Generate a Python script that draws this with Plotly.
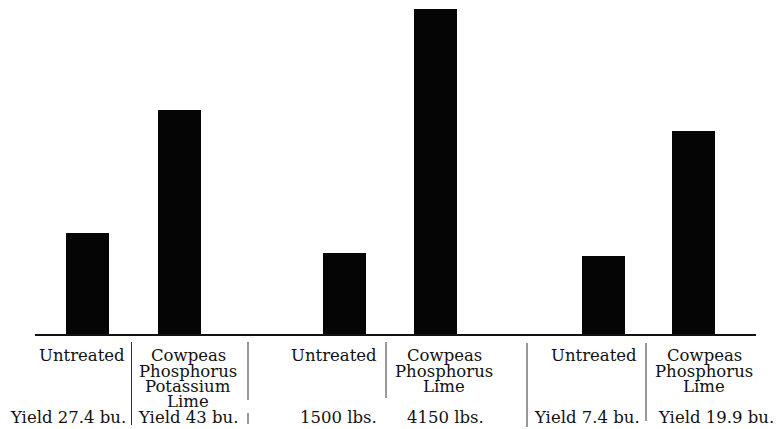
import plotly.graph_objects as go

# ---- data ----
treatments = [
    ["Untreated"],
    ["Cowpeas", "Phosphorus", "Potassium", "Lime"],
    ["Untreated"],
    ["Cowpeas", "Phosphorus", "Lime"],
    ["Untreated"],
    ["Cowpeas", "Phosphorus", "Lime"],
]
yield_labels = ["Yield 27.4 bu.", "Yield 43 bu.", "1500 lbs.", "4150 lbs.",
                "Yield 7.4 bu.", "Yield 19.9 bu."]
# bar heights as drawn (relative units, measured from the baseline)
bar_heights = [102, 225, 82, 326, 79, 204]

# ---- layout (pixel-like units) ----
bar_x = [87, 179, 344, 435, 603, 693]
bar_w = 43
label_x = [82, 188, 334, 444, 594, 704]
yield_x = [68, 188, 338, 445, 587, 716]
line_y = [-20, -36, -51, -66]   # text line centres below baseline
yield_y = -82

FONT = "DejaVu Serif"
FS = 16.5

fig = go.Figure()
fig.add_trace(go.Bar(
    x=bar_x, y=bar_heights, width=bar_w,
    marker=dict(color="#050505", line=dict(width=0)),
    hoverinfo="skip",
))

ann = []
for i, lines in enumerate(treatments):
    for j, t in enumerate(lines):
        ann.append(dict(x=label_x[i], y=line_y[j], text=t, showarrow=False,
                        xanchor="center", yanchor="middle", borderpad=0,
                        font=dict(family=FONT, size=FS, color="#111")))
    ann.append(dict(x=yield_x[i], y=yield_y, text=yield_labels[i], showarrow=False,
                    xanchor="center", yanchor="middle", borderpad=0,
                    font=dict(family=FONT, size=FS, color="#111")))

shapes = [dict(type="line", x0=35, x1=756, y0=0, y1=0,
               line=dict(color="#111", width=2))]
seps = [(131.5, -7, -90), (248, -7, -65), (248, -78, -89), (386, -7, -63),
        (527, -8, -92), (646, -8, -86)]
for x, y0, y1 in seps:
    shapes.append(dict(type="line", x0=x, x1=x, y0=y0, y1=y1,
                       line=dict(color="#333", width=1)))

fig.update_layout(
    width=779, height=429,
    margin=dict(l=0, r=0, t=0, b=0),
    paper_bgcolor="white", plot_bgcolor="white",
    showlegend=False,
    xaxis=dict(range=[0, 779], visible=False, fixedrange=True),
    yaxis=dict(range=[-94, 335], visible=False, fixedrange=True),
    annotations=ann, shapes=shapes, bargap=0,
)
fig.write_html("out.html", config={"displayModeBar": False},
               post_script="document.body.style.margin='0';document.body.style.overflow='hidden';")
